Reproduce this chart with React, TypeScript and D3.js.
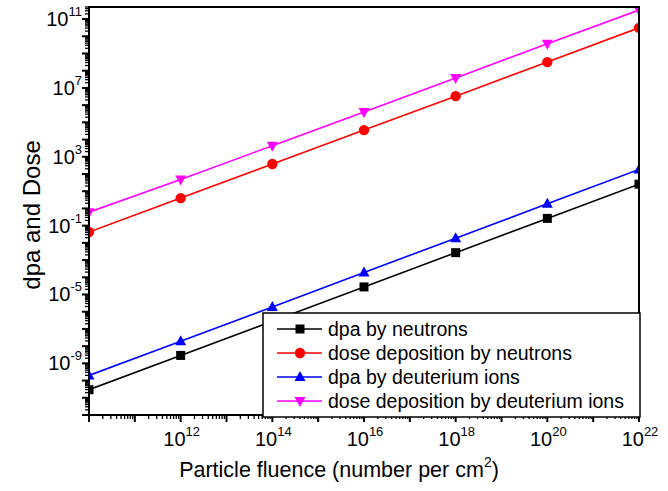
import React from "react";
import * as d3 from "d3";

const fluenceExp = [10, 12, 14, 16, 18, 20, 22];
const dpaNeutronsLog = [-10.53, -8.54, -6.55, -4.56, -2.57, -0.58, 1.41];
const doseNeutronsLog = [-1.37, 0.6, 2.58, 4.55, 6.52, 8.5, 10.49];
const dpaDeuteriumLog = [-9.7, -7.72, -5.72, -3.72, -1.73, 0.27, 2.26];
const doseDeuteriumLog = [-0.22, 1.68, 3.64, 5.6, 7.58, 9.57, 11.52];

const seriesNames = [
  "dpa by neutrons",
  "dose deposition by neutrons",
  "dpa by deuterium ions",
  "dose deposition by deuterium ions",
];
const seriesColors = ["#000000", "#ff0000", "#0000ff", "#ff00ff"];
const seriesSymbols = ["square", "circle", "triangleUp", "triangleDown"];
const seriesLogs = [dpaNeutronsLog, doseNeutronsLog, dpaDeuteriumLog, doseDeuteriumLog];

const xTickLabelExp = [12, 14, 16, 18, 20, 22];
const yTickLabelExp = [11, 7, 3, -1, -5, -9];

const W = 668, H = 491;
const L = 89, R = 639, T = 7, B = 415;
const FONT = "'Liberation Sans', Arial, sans-serif";

function Marker({ type, x, y, color }: { type: string; x: number; y: number; color: string }) {
  if (type === "square") return <rect x={x - 4.5} y={y - 4.5} width={9} height={9} fill={color} />;
  if (type === "circle") return <circle cx={x} cy={y} r={5.2} fill={color} />;
  if (type === "triangleUp")
    return <path d={`M${x},${y - 6} L${x + 5.5},${y + 4} L${x - 5.5},${y + 4} Z`} fill={color} />;
  return <path d={`M${x},${y + 6} L${x + 5.5},${y - 4} L${x - 5.5},${y - 4} Z`} fill={color} />;
}

export default function App() {
  const x = d3.scaleLog().domain([1e10, 1e22]).range([L, R]);
  const y = d3.scaleLog().domain([1e-12, Math.pow(10, 11.7)]).range([B, T]);

  const xMajor: number[] = [];
  const xMinor: number[] = [];
  for (let e = 10; e <= 22; e++) {
    xMajor.push(Math.pow(10, e));
    if (e < 22) for (let k = 2; k <= 9; k++) xMinor.push(k * Math.pow(10, e));
  }
  const yMajor: number[] = [];
  const yMinor: number[] = [];
  const [y0, y1] = y.domain();
  for (let e = -12; e <= 12; e++) {
    const v = Math.pow(10, e);
    if (v >= y0 && v <= y1 * 1.0001) yMajor.push(v);
    for (let k = 2; k <= 9; k++) {
      const m = k * v;
      if (m >= y0 && m <= y1) yMinor.push(m);
    }
  }

  const line = d3
    .line<[number, number]>()
    .x((d) => x(Math.pow(10, d[0])))
    .y((d) => y(Math.pow(10, d[1])));

  const legX = 263, legY = 313, legW = 377, legH = 104;

  return (
    <svg width={W} height={H} style={{ position: "absolute", left: 0, top: 0, background: "#fff" }} fontFamily={FONT}>
      <defs>
        <clipPath id="plotclip">
          <rect x={L} y={T} width={R - L} height={B - T} />
        </clipPath>
      </defs>
      <rect x={0} y={0} width={W} height={H} fill="#fff" />

      {/* series */}
      <g clipPath="url(#plotclip)">
        {seriesLogs.map((vals, i) => {
          const pts = fluenceExp.map((e, j) => [e, vals[j]] as [number, number]);
          return (
            <g key={i}>
              <path d={line(pts) || ""} fill="none" stroke={seriesColors[i]} strokeWidth={1.6} />
              {pts.map((p, j) => (
                <Marker key={j} type={seriesSymbols[i]} color={seriesColors[i]} x={x(Math.pow(10, p[0]))} y={y(Math.pow(10, p[1]))} />
              ))}
            </g>
          );
        })}
      </g>

      {/* frame */}
      <rect x={L} y={T} width={R - L} height={B - T} fill="none" stroke="#000" strokeWidth={2} />

      {/* y ticks */}
      {yMajor.map((v, i) => (
        <line key={"yM" + i} x1={L} x2={L - 7} y1={y(v)} y2={y(v)} stroke="#000" strokeWidth={2} />
      ))}
      {yMinor.map((v, i) => (
        <line key={"ym" + i} x1={L} x2={L - 4} y1={y(v)} y2={y(v)} stroke="#000" strokeWidth={1.3} />
      ))}
      {/* x ticks */}
      {xMajor.map((v, i) => (
        <line key={"xM" + i} x1={x(v)} x2={x(v)} y1={B} y2={B + 7} stroke="#000" strokeWidth={2} />
      ))}
      {xMinor.map((v, i) => (
        <line key={"xm" + i} x1={x(v)} x2={x(v)} y1={B} y2={B + 4} stroke="#000" strokeWidth={1.3} />
      ))}

      {/* y tick labels */}
      {yTickLabelExp.map((e) => (
        <text key={"yl" + e} x={82} y={y(Math.pow(10, e)) + 7} textAnchor="end" fontSize={20} fill="#000">
          10
          <tspan fontSize={13} dy={-10}>
            {e < 0 ? "-" + Math.abs(e) : String(e)}
          </tspan>
        </text>
      ))}
      {/* x tick labels */}
      {xTickLabelExp.map((e) => (
        <text key={"xl" + e} x={x(Math.pow(10, e)) + 1} y={446} textAnchor="middle" fontSize={20} fill="#000">
          10
          <tspan fontSize={13} dy={-10}>
            {String(e)}
          </tspan>
        </text>
      ))}

      {/* axis titles */}
      <text x={339} y={477} textAnchor="middle" fontSize={21.5} fill="#000">
        Particle fluence (number per cm
        <tspan fontSize={14} dy={-10}>2</tspan>
        <tspan dy={10}>)</tspan>
      </text>
      <text transform={`translate(40,${215}) rotate(-90)`} textAnchor="middle" fontSize={24} fill="#000">
        dpa and Dose
      </text>

      {/* legend */}
      <rect x={legX} y={legY} width={legW} height={legH} fill="#fff" stroke="#000" strokeWidth={1.5} />
      {seriesNames.map((name, i) => {
        const cy = legY + 16 + i * 24;
        return (
          <g key={"lg" + i}>
            <line x1={277} x2={322} y1={cy} y2={cy} stroke={seriesColors[i]} strokeWidth={1.6} />
            <Marker type={seriesSymbols[i]} color={seriesColors[i]} x={300} y={cy} />
            <text x={328} y={cy + 7} fontSize={19.5} fill="#000">
              {name}
            </text>
          </g>
        );
      })}
    </svg>
  );
}
